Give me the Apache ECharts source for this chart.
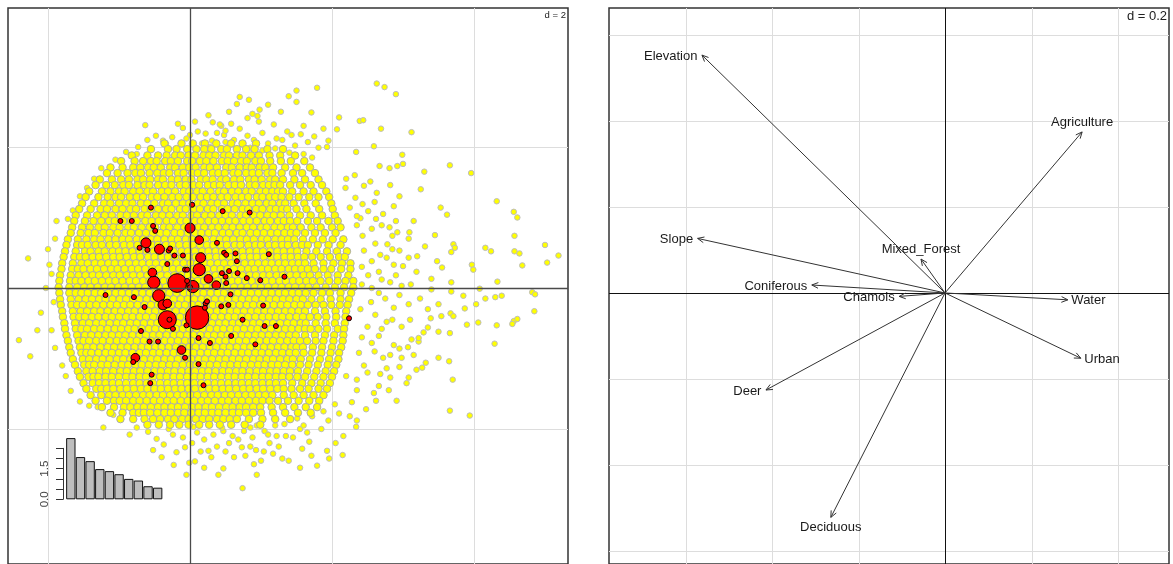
<!DOCTYPE html>
<html><head><meta charset="utf-8">
<script src="https://cdn.jsdelivr.net/npm/echarts/dist/echarts.min.js"></script>
<style>html,body{margin:0;padding:0;background:#fff}#c{width:1173px;height:564px}</style>
</head><body><div id="c"></div>
<script>
// ---- Left panel: site scores (dense cloud rows: [y, x1, x2, ...]) ----
const cloudRows = [
[2.05,-0.36,-0.12,0.04,0.21,0.37,0.58,0.74,0.93],
[1.97,-0.55,-0.31,-0.19,-0.04,0.09,0.2,0.3,0.44,0.52,0.66,0.79,0.91,1.09,1.31],
[1.88,-0.82,-0.6,-0.45,-0.33,-0.21,-0.13,-0.02,0.07,0.19,0.27,0.36,0.48,0.55,0.66,0.74,0.86,0.97,1.12,1.27,1.48],
[1.80,-0.97,-0.78,-0.66,-0.55,-0.47,-0.35,-0.27,-0.17,-0.04,0.03,0.14,0.23,0.33,0.45,0.53,0.62,0.72,0.8,0.92,1.0,1.13,1.28,1.42,1.61],
[1.71,-1.12,-0.95,-0.8,-0.7,-0.59,-0.51,-0.41,-0.28,-0.21,-0.1,-0.01,0.08,0.2,0.28,0.38,0.51,0.59,0.7,0.8,0.87,0.98,1.06,1.17,1.34,1.5,1.69],
[1.63,-1.17,-1.02,-0.88,-0.77,-0.69,-0.57,-0.46,-0.37,-0.29,-0.17,-0.09,0.03,0.11,0.2,0.32,0.4,0.49,0.61,0.68,0.79,0.88,0.97,1.09,1.16,1.29,1.45,1.58,1.76],
[1.54,-1.27,-1.1,-0.97,-0.86,-0.74,-0.66,-0.56,-0.45,-0.38,-0.26,-0.17,-0.06,0.02,0.15,0.23,0.32,0.44,0.51,0.62,0.71,0.83,0.91,1.01,1.13,1.2,1.31,1.47,1.62,1.81],
[1.46,-1.33,-1.18,-1.06,-0.94,-0.86,-0.74,-0.64,-0.57,-0.45,-0.35,-0.26,-0.14,-0.06,0.05,0.13,0.25,0.34,0.42,0.54,0.63,0.72,0.84,0.92,1.03,1.11,1.19,1.27,1.41,1.55,1.7,1.86],
[1.37,-1.42,-1.24,-1.12,-1.0,-0.92,-0.8,-0.71,-0.6,-0.52,-0.4,-0.31,-0.21,-0.09,-0.01,0.1,0.18,0.29,0.41,0.48,0.59,0.68,0.79,0.87,0.99,1.07,1.16,1.24,1.31,1.44,1.6,1.74,1.92],
[1.29,-1.47,-1.29,-1.16,-1.05,-0.97,-0.85,-0.75,-0.66,-0.54,-0.46,-0.36,-0.25,-0.16,-0.05,0.04,0.15,0.24,0.33,0.44,0.53,0.64,0.73,0.82,0.94,1.02,1.12,1.2,1.29,1.4,1.53,1.68,1.81,1.96],
[1.20,-1.52,-1.35,-1.21,-1.12,-1.0,-0.9,-0.81,-0.69,-0.6,-0.5,-0.38,-0.31,-0.2,-0.1,-0.01,0.11,0.19,0.3,0.39,0.48,0.6,0.67,0.78,0.88,0.97,1.08,1.16,1.27,1.34,1.46,1.61,1.77,1.99],
[1.12,-1.56,-1.4,-1.26,-1.17,-1.05,-0.95,-0.84,-0.76,-0.64,-0.55,-0.45,-0.34,-0.26,-0.14,-0.06,0.05,0.14,0.25,0.33,0.45,0.53,0.63,0.74,0.82,0.93,1.02,1.13,1.21,1.3,1.37,1.5,1.64,1.82,2.01],
[1.03,-1.61,-1.45,-1.31,-1.2,-1.1,-0.98,-0.89,-0.79,-0.68,-0.6,-0.48,-0.39,-0.29,-0.18,-0.1,0.02,0.1,0.21,0.3,0.41,0.5,0.59,0.71,0.79,0.9,0.99,1.09,1.18,1.28,1.4,1.55,1.7,1.86,2.04],
[0.95,-1.63,-1.48,-1.36,-1.25,-1.14,-1.06,-0.94,-0.83,-0.75,-0.63,-0.54,-0.44,-0.33,-0.24,-0.13,-0.05,0.07,0.15,0.26,0.35,0.45,0.55,0.64,0.75,0.84,0.94,1.05,1.13,1.24,1.32,1.41,1.51,1.66,1.79,1.95,2.08],
[0.86,-1.66,-1.52,-1.41,-1.29,-1.2,-1.08,-0.99,-0.87,-0.79,-0.68,-0.57,-0.49,-0.37,-0.29,-0.18,-0.08,0.01,0.12,0.2,0.31,0.4,0.51,0.6,0.7,0.8,0.89,1.0,1.08,1.19,1.28,1.38,1.45,1.56,1.71,1.84,2.0,2.12],
[0.78,-1.68,-1.54,-1.43,-1.34,-1.22,-1.13,-1.02,-0.91,-0.83,-0.72,-0.62,-0.52,-0.42,-0.33,-0.22,-0.13,-0.03,0.07,0.16,0.26,0.35,0.46,0.55,0.66,0.74,0.85,0.94,1.04,1.14,1.23,1.33,1.42,1.5,1.62,1.76,1.9,2.05],
[0.69,-1.72,-1.58,-1.46,-1.35,-1.26,-1.15,-1.05,-0.95,-0.86,-0.75,-0.66,-0.55,-0.46,-0.36,-0.26,-0.17,-0.06,0.03,0.13,0.22,0.33,0.42,0.51,0.61,0.71,0.8,0.9,1.01,1.09,1.2,1.29,1.38,1.47,1.59,1.73,1.87,2.01,2.16],
[0.61,-1.74,-1.59,-1.52,-1.44,-1.33,-1.24,-1.13,-1.04,-0.93,-0.84,-0.74,-0.64,-0.54,-0.45,-0.34,-0.25,-0.15,-0.05,0.04,0.14,0.24,0.33,0.43,0.52,0.63,0.71,0.82,0.92,1.0,1.11,1.2,1.3,1.38,1.49,1.58,1.66,1.8,1.95,2.12],
[0.52,-1.76,-1.61,-1.48,-1.4,-1.29,-1.2,-1.09,-1.0,-0.91,-0.81,-0.71,-0.61,-0.51,-0.42,-0.31,-0.23,-0.12,-0.03,0.07,0.17,0.26,0.36,0.45,0.55,0.65,0.74,0.84,0.94,1.03,1.13,1.23,1.32,1.42,1.51,1.64,1.78,1.93,2.07,2.21],
[0.44,-1.78,-1.63,-1.55,-1.47,-1.37,-1.28,-1.18,-1.08,-0.99,-0.89,-0.79,-0.7,-0.59,-0.5,-0.4,-0.31,-0.21,-0.11,-0.02,0.08,0.17,0.27,0.37,0.46,0.56,0.65,0.75,0.85,0.94,1.04,1.14,1.23,1.33,1.42,1.52,1.61,1.72,1.84,1.97,2.1,2.18],
[0.35,-1.8,-1.65,-1.53,-1.44,-1.34,-1.25,-1.15,-1.06,-0.96,-0.86,-0.76,-0.67,-0.57,-0.48,-0.38,-0.28,-0.19,-0.09,0.01,0.1,0.2,0.29,0.39,0.48,0.58,0.67,0.77,0.87,0.96,1.06,1.15,1.25,1.34,1.44,1.53,1.62,1.74,1.88,2.02,2.14,2.26],
[0.27,-1.81,-1.66,-1.58,-1.5,-1.4,-1.31,-1.21,-1.11,-1.02,-0.92,-0.82,-0.73,-0.63,-0.53,-0.44,-0.34,-0.24,-0.15,-0.05,0.05,0.14,0.24,0.34,0.43,0.53,0.62,0.72,0.82,0.91,1.01,1.1,1.2,1.29,1.39,1.48,1.57,1.66,1.76,1.88,1.99,2.13,2.26],
[0.18,-1.83,-1.68,-1.57,-1.47,-1.37,-1.28,-1.18,-1.08,-0.99,-0.89,-0.8,-0.7,-0.6,-0.51,-0.41,-0.32,-0.22,-0.12,-0.03,0.07,0.16,0.26,0.36,0.45,0.55,0.64,0.74,0.84,0.93,1.03,1.12,1.22,1.31,1.41,1.5,1.6,1.69,1.81,1.94,2.08,2.23],
[0.10,-1.84,-1.69,-1.61,-1.53,-1.43,-1.34,-1.24,-1.14,-1.05,-0.95,-0.85,-0.76,-0.66,-0.57,-0.47,-0.37,-0.28,-0.18,-0.09,0.01,0.11,0.2,0.3,0.39,0.49,0.59,0.68,0.78,0.87,0.97,1.07,1.16,1.26,1.35,1.45,1.54,1.64,1.73,1.84,1.96,2.08,2.19,2.3],
[0.01,-1.85,-1.7,-1.59,-1.49,-1.4,-1.3,-1.2,-1.11,-1.01,-0.92,-0.82,-0.72,-0.63,-0.53,-0.44,-0.34,-0.24,-0.15,-0.05,0.04,0.14,0.24,0.33,0.43,0.52,0.62,0.72,0.81,0.91,1.0,1.1,1.2,1.29,1.39,1.48,1.58,1.67,1.78,1.91,2.04,2.17,2.3],
[-0.07,-1.84,-1.7,-1.61,-1.53,-1.44,-1.34,-1.25,-1.15,-1.05,-0.96,-0.86,-0.77,-0.67,-0.57,-0.48,-0.38,-0.29,-0.19,-0.09,0,0.1,0.19,0.29,0.39,0.48,0.58,0.67,0.77,0.86,0.96,1.06,1.15,1.25,1.34,1.44,1.53,1.63,1.74,1.86,1.97,2.12,2.27],
[-0.16,-1.83,-1.68,-1.57,-1.47,-1.38,-1.28,-1.19,-1.09,-0.99,-0.9,-0.8,-0.71,-0.61,-0.51,-0.42,-0.32,-0.23,-0.13,-0.03,0.06,0.16,0.25,0.35,0.45,0.54,0.64,0.73,0.83,0.92,1.02,1.12,1.21,1.31,1.4,1.5,1.59,1.71,1.84,1.98,2.12,2.24],
[-0.24,-1.82,-1.67,-1.59,-1.51,-1.41,-1.32,-1.22,-1.12,-1.03,-0.93,-0.84,-0.74,-0.64,-0.55,-0.45,-0.36,-0.26,-0.16,-0.07,0.03,0.12,0.22,0.32,0.41,0.51,0.6,0.7,0.8,0.89,0.99,1.08,1.18,1.28,1.37,1.47,1.56,1.66,1.77,1.88,1.99,2.11,2.22],
[-0.33,-1.8,-1.65,-1.54,-1.45,-1.35,-1.26,-1.16,-1.06,-0.97,-0.87,-0.78,-0.68,-0.58,-0.49,-0.39,-0.3,-0.2,-0.1,-0.01,0.09,0.18,0.28,0.38,0.47,0.57,0.66,0.76,0.86,0.95,1.05,1.14,1.24,1.34,1.43,1.53,1.62,1.76,1.9,2.05,2.2],
[-0.41,-1.79,-1.64,-1.56,-1.48,-1.38,-1.29,-1.19,-1.1,-1.0,-0.9,-0.81,-0.71,-0.62,-0.52,-0.42,-0.33,-0.23,-0.14,-0.04,0.06,0.15,0.25,0.34,0.44,0.54,0.63,0.73,0.82,0.92,1.02,1.11,1.21,1.3,1.4,1.5,1.59,1.69,1.8,1.92,2.06,2.19],
[-0.50,-1.77,-1.62,-1.51,-1.42,-1.32,-1.23,-1.13,-1.03,-0.94,-0.84,-0.75,-0.65,-0.55,-0.46,-0.36,-0.27,-0.17,-0.07,0.02,0.12,0.21,0.31,0.41,0.5,0.6,0.69,0.79,0.89,0.98,1.08,1.17,1.27,1.37,1.46,1.56,1.63,1.77,1.91,2.04,2.18],
[-0.58,-1.76,-1.61,-1.53,-1.45,-1.35,-1.26,-1.16,-1.06,-0.97,-0.87,-0.78,-0.68,-0.58,-0.49,-0.39,-0.3,-0.2,-0.1,-0.01,0.09,0.18,0.28,0.38,0.47,0.57,0.66,0.76,0.86,0.95,1.05,1.14,1.24,1.34,1.43,1.53,1.62,1.7,1.81,1.93,2.08,2.17],
[-0.67,-1.74,-1.59,-1.48,-1.39,-1.29,-1.19,-1.1,-1.0,-0.91,-0.81,-0.71,-0.62,-0.52,-0.43,-0.33,-0.23,-0.14,-0.04,0.05,0.15,0.25,0.34,0.44,0.53,0.63,0.73,0.82,0.92,1.01,1.11,1.21,1.3,1.4,1.49,1.62,1.76,1.9,2.03,2.16],
[-0.75,-1.72,-1.57,-1.5,-1.42,-1.32,-1.23,-1.13,-1.03,-0.94,-0.84,-0.75,-0.65,-0.55,-0.46,-0.36,-0.27,-0.17,-0.07,0.02,0.12,0.21,0.31,0.41,0.5,0.6,0.69,0.79,0.89,0.98,1.08,1.17,1.27,1.37,1.46,1.55,1.65,1.77,1.88,2.02,2.15],
[-0.84,-1.7,-1.55,-1.45,-1.36,-1.26,-1.16,-1.07,-0.97,-0.88,-0.78,-0.68,-0.59,-0.49,-0.4,-0.3,-0.2,-0.11,-0.01,0.08,0.18,0.28,0.37,0.47,0.56,0.66,0.76,0.85,0.95,1.04,1.14,1.24,1.33,1.43,1.5,1.59,1.73,1.86,2.0,2.13],
[-0.92,-1.68,-1.53,-1.46,-1.39,-1.29,-1.19,-1.1,-1.0,-0.91,-0.81,-0.71,-0.62,-0.52,-0.43,-0.33,-0.23,-0.14,-0.04,0.05,0.15,0.25,0.34,0.44,0.53,0.63,0.73,0.82,0.92,1.01,1.11,1.21,1.3,1.4,1.49,1.6,1.72,1.85,1.98,2.1],
[-1.01,-1.65,-1.51,-1.42,-1.32,-1.23,-1.13,-1.03,-0.94,-0.84,-0.75,-0.65,-0.55,-0.46,-0.36,-0.27,-0.17,-0.07,0.02,0.12,0.21,0.31,0.41,0.5,0.6,0.69,0.79,0.89,0.98,1.08,1.17,1.27,1.37,1.45,1.56,1.69,1.83,1.96,2.09],
[-1.09,-1.62,-1.49,-1.42,-1.35,-1.25,-1.16,-1.06,-0.96,-0.87,-0.77,-0.68,-0.58,-0.48,-0.39,-0.29,-0.2,-0.1,0,0.09,0.19,0.28,0.38,0.48,0.57,0.67,0.76,0.86,0.96,1.05,1.15,1.24,1.34,1.44,1.55,1.67,1.8,1.94,2.06],
[-1.18,-1.58,-1.46,-1.37,-1.27,-1.18,-1.08,-0.98,-0.89,-0.79,-0.7,-0.6,-0.5,-0.41,-0.31,-0.22,-0.12,-0.02,0.07,0.17,0.26,0.36,0.46,0.55,0.65,0.74,0.84,0.94,1.03,1.13,1.22,1.32,1.41,1.52,1.65,1.78,1.91,2.03],
[-1.26,-1.55,-1.43,-1.36,-1.29,-1.19,-1.1,-1.0,-0.9,-0.81,-0.71,-0.62,-0.52,-0.42,-0.33,-0.23,-0.14,-0.04,0.06,0.15,0.25,0.34,0.44,0.54,0.63,0.73,0.82,0.92,1.02,1.11,1.21,1.3,1.4,1.51,1.62,1.75,1.88,2.0],
[-1.35,-1.5,-1.37,-1.28,-1.19,-1.09,-1.0,-0.9,-0.8,-0.71,-0.61,-0.52,-0.42,-0.32,-0.23,-0.13,-0.04,0.06,0.16,0.25,0.35,0.44,0.54,0.64,0.73,0.83,0.92,1.02,1.12,1.21,1.31,1.44,1.58,1.71,1.84,1.97],
[-1.43,-1.46,-1.32,-1.25,-1.17,-1.08,-0.98,-0.89,-0.79,-0.69,-0.6,-0.5,-0.41,-0.31,-0.21,-0.12,-0.02,0.07,0.17,0.27,0.36,0.46,0.55,0.65,0.75,0.84,0.94,1.03,1.13,1.23,1.32,1.43,1.55,1.67,1.81,1.93],
[-1.52,-1.4,-1.25,-1.14,-1.05,-0.95,-0.86,-0.76,-0.66,-0.57,-0.47,-0.38,-0.28,-0.18,-0.09,0.01,0.1,0.2,0.3,0.39,0.49,0.58,0.68,0.78,0.87,0.97,1.06,1.16,1.32,1.46,1.6,1.74,1.88],
[-1.60,-1.33,-1.17,-1.07,-0.99,-0.9,-0.8,-0.71,-0.61,-0.51,-0.42,-0.32,-0.23,-0.13,-0.03,0.06,0.16,0.25,0.35,0.45,0.54,0.64,0.73,0.83,0.93,1.02,1.12,1.24,1.38,1.53,1.68,1.82],
[-1.69,-1.24,-1.07,-0.93,-0.84,-0.74,-0.65,-0.55,-0.45,-0.36,-0.26,-0.17,-0.07,0.03,0.12,0.22,0.31,0.41,0.51,0.6,0.7,0.79,0.89,0.99,1.15,1.31,1.47,1.63,1.79],
[-1.77,-1.12,-0.95,-0.8,-0.72,-0.65,-0.56,-0.46,-0.36,-0.27,-0.17,-0.08,0.02,0.12,0.21,0.31,0.4,0.5,0.6,0.69,0.79,0.89,1.0,1.17,1.34,1.52,1.7],
[-1.86,-0.98,-0.8,-0.64,-0.52,-0.42,-0.31,-0.22,-0.11,-0.02,0.08,0.18,0.27,0.38,0.47,0.56,0.66,0.83,1.02,1.2,1.41],
[-1.94,-0.6,-0.44,-0.28,-0.15,-0.02,0.13,0.27,0.42,0.58,0.77,0.99]
];
// scattered sites outside the dense cloud: [x, y]
const cloudOutliers = [
[2.63,2.90],[2.74,2.85],[2.90,2.75],[1.79,2.84],[1.50,2.80],[1.39,2.72],[1.50,2.64],[0.70,2.71],[0.83,2.67],[0.66,2.61],[0.98,2.53],[0.88,2.47],[1.71,2.49],[0.81,2.41],[0.97,2.36],[2.10,2.42],[2.39,2.37],[2.44,2.38],[2.69,2.26],[2.07,2.25],[3.12,2.21],[-0.63,2.31],[-0.17,2.33],[0.32,2.35],[0.44,2.30],[0.58,2.33],[0.81,2.16],[1.37,2.22],[1.43,2.17],[1.56,2.18],[1.22,2.12],[1.66,2.07],[1.81,1.99],[1.95,2.09],[1.93,2.00],[2.59,2.01],[2.34,1.93],[2.99,1.89],[-0.73,2.00],[-0.38,2.09],[-0.34,2.05],[0.00,2.17],[0.11,2.22],[0.17,2.05],[0.31,2.09],[0.48,2.17],[0.50,2.23],[0.42,2.32],[0.50,2.07],
[-0.6,2.1],[-0.48,2.16],[-0.25,2.14],[-0.1,2.27],[0.07,2.36],[0.22,2.19],[0.26,2.45],[0.38,2.2],[0.62,2.1],[0.7,2.26],[0.9,2.1],[1.02,2.2],[1.1,2.05],[1.18,2.32],[1.3,2.1],[1.48,2.02],[1.6,2.3],[1.75,2.15],[1.88,2.26],[0.55,2.5],[0.95,2.44],[1.1,2.6],[1.28,2.5],[-0.05,2.12],[0.28,2.0],[0.85,1.99],[1.02,1.95],[1.2,1.98],[1.4,1.92],[1.6,1.9],[1.72,1.85],[-0.75,1.9],[-0.9,1.93],[-1.05,1.82],[-1.25,1.7],[-1.35,1.55],[-1.45,1.42],[-1.55,1.3],[-1.65,1.1],[-1.72,0.98],
[2.67,1.73],[2.81,1.70],[2.92,1.73],[3.00,1.76],[3.30,1.65],[3.66,1.74],[3.96,1.63],[2.54,1.51],[2.82,1.46],[2.63,1.35],[2.19,1.42],[2.33,1.28],[4.32,1.23],[2.87,1.16],[3.53,1.14],[3.62,1.04],[4.56,1.08],[4.61,1.00],[2.70,0.89],[2.81,0.86],[4.57,0.74],[4.16,0.57],[4.24,0.52],[3.71,0.62],[3.73,0.57],[3.68,0.51],[4.57,0.52],[4.64,0.49],[5.00,0.61],[5.19,0.46],[5.03,0.36],[4.68,0.32],[3.97,0.33],[3.99,0.26],[3.48,0.38],[3.55,0.29],[3.31,0.59],[3.08,0.70],[3.09,0.79],[2.92,0.79],[2.85,0.74],[2.95,0.53],[3.08,0.43],[2.87,0.33],[3.00,0.31],[3.19,0.23],[3.40,0.13],[3.68,0.08],[3.68,-0.05],[4.33,0.09],[4.08,-0.01],[3.85,-0.11],[4.16,-0.15],[4.30,-0.13],[4.39,-0.11],[4.82,-0.06],[4.86,-0.09],[4.03,-0.23],[3.87,-0.29],[3.67,-0.36],[3.71,-0.40],[3.39,-0.43],[3.54,-0.40],[4.06,-0.49],[4.32,-0.53],[4.56,-0.47],[4.61,-0.44],[4.85,-0.33],[4.54,-0.51],[3.90,-0.52],[3.66,-0.64],[3.50,-0.62],[3.35,-0.56],[3.29,-0.63],[4.29,-0.79],[3.12,-0.73],[3.22,-0.76],[2.87,-0.81],[2.95,-0.86],[3.07,-0.84],[3.22,-0.71],[2.98,-0.99],[3.50,-0.99],[3.32,-1.06],[3.65,-1.04],[3.19,-1.16],[3.27,-1.13],[3.08,-1.27],[3.05,-1.35],[3.70,-1.30],[2.82,-1.27],[2.91,-1.60],[3.66,-1.74],[3.94,-1.81],[2.66,-1.39],[2.59,-1.49],[2.77,-1.14],[2.72,-0.99],[2.66,-0.68],[2.56,-0.78],[2.77,-0.48],[2.61,-0.38],[2.87,-0.28],[3.08,-0.23],[3.24,-0.15],[3.50,-0.23],[3.40,-0.02],[3.11,0.05],[2.98,0.03],[2.82,0.08],[2.66,-0.07],[2.56,0.00],[2.51,0.18],[2.66,0.23],[2.77,0.43],[2.56,0.38],[2.45,0.53],[2.61,0.63],[2.43,0.74],[2.56,0.84],[2.40,0.99],[2.51,1.09],[2.43,1.19],[2.25,1.14],[2.35,0.89],[2.2,-1.25],[2.35,-1.45],[2.28,-1.62],[2.45,-1.1],[2.1,-1.78],
[2.32,1.6],[2.45,1.45],[2.2,1.55],[2.6,1.22],[2.72,1.05],[2.35,1.02],[2.62,0.98],[2.78,0.62],[2.9,0.95],[2.68,0.47],[2.85,0.55],[2.42,0.3],[2.7,0.12],[2.9,0.18],[2.42,0.05],[2.55,-0.2],[2.75,-0.15],[2.95,-0.1],[2.4,-0.3],[2.5,-0.55],[2.7,-0.58],[2.85,-0.45],[2.98,-0.55],[2.42,-0.7],[2.6,-0.9],[2.82,-0.95],[2.38,-0.92],[2.5,-1.2],[2.68,-1.22],[2.95,-1.12],[2.35,-1.3],[2.62,-1.6],[2.48,-1.72],[2.8,-1.45],[3.1,-0.45],[3.2,0.45],[3.15,0.95],[2.95,1.3],[3.25,1.4],[3.45,0.75],[3.35,-0.3],[3.15,-0.95],
[-2.28,0.42],[-1.98,0.33],[-2.03,0.00],[-2.41,-0.74],[-2.25,-0.97],[-1.95,-0.6],[-1.9,0.7],[-1.68,-1.46],[-1.55,-1.61],[-1.42,-1.67],[-1.30,-1.69],[-1.22,-1.98],[-1.08,-1.80],
[-1.95,0.2],[-1.92,-0.2],[-2.1,-0.35],[-1.9,-0.85],[-2.0,0.55],[-1.88,0.95],[-1.8,-1.1],[-1.75,-1.25],[-2.15,-0.6],
[-0.59,-2.04],[-0.47,-2.14],[-0.37,-2.22],[-0.24,-2.08],[-0.23,-2.51],[-0.19,-2.33],[-0.07,-2.26],[0.03,-2.20],[-0.01,-2.48],[0.07,-2.46],[0.26,-2.31],[0.47,-2.56],[0.74,-2.84],[0.73,-2.26],[0.78,-2.38],[0.94,-2.65],[0.93,-2.30],[1.04,-2.32],[1.17,-2.35],[1.30,-2.42],[1.39,-2.45],[1.58,-2.28],[1.71,-2.38],[1.79,-2.52],[1.93,-2.31],[1.96,-2.42],[2.15,-2.37],[2.16,-2.10],[2.25,-1.82],[2.35,-1.88],[2.34,-1.97],[2.04,-1.65],[1.88,-1.75],[1.72,-1.82],[1.51,-1.85],[1.33,-1.93],[1.22,-2.10],[1.05,-2.03],[0.94,-1.95],[0.76,-2.03],[0.60,-2.10],[0.47,-2.03],[0.33,-2.08],[0.20,-2.15],[0.1,-2.05],[0.55,-2.2],[0.88,-2.12],[1.12,-2.2],[1.45,-2.12],[1.65,-2.05],[1.85,-2.0],[-0.3,-2.0],[0.38,-2.25],[1.0,-2.45],[0.62,-2.4],
[-0.75,-1.98],[-0.85,-2.08],[-0.52,-2.3],[-0.4,-2.4],[-0.1,-2.12],[0.15,-2.32],[0.3,-2.4],[0.5,-2.32],[0.68,-2.15],[0.85,-2.25],[1.1,-2.08],[1.25,-2.25],[1.55,-2.0],[1.68,-2.18],[1.35,-2.1],[0.2,-2.55],[0.9,-2.5],[1.55,-2.55],[-0.05,-2.65],[0.4,-2.65],[1.2,-1.95],[1.6,-1.95],[1.95,-1.88],[2.05,-2.2],[0.05,-1.97],[0.45,-1.98],[0.85,-1.98]
];
// red sites: [x, y, weight]
const redSites = [
[0.00,0.85,4],[0.13,0.68,3],[-0.62,0.64,4],[-0.43,0.55,4],[0.15,0.43,4],[0.13,0.26,6],[-0.53,0.22,3],[-0.51,0.08,6],[-0.18,0.07,14],[0.04,0.02,6],[0.26,0.13,3],[0.37,0.04,3],[-0.44,-0.11,6],[-0.38,-0.24,4],[-0.32,-0.22,3],[-0.32,-0.45,13],[0.10,-0.42,22],[-0.12,-0.88,3],[-0.77,-0.99,3],
[-0.55,1.14,1],[0.46,1.09,1],[0.84,1.07,1],[-0.98,0.95,1],[-0.82,0.95,1],[-0.52,0.88,1],[-0.49,0.81,1],[0.03,1.18,1],[0.38,0.64,1],[-0.71,0.57,1],[-0.60,0.54,1],[-0.30,0.53,1],[-0.28,0.56,1],[0.48,0.50,1],[0.51,0.47,1],[0.64,0.49,1],[1.11,0.48,1],[-0.32,0.34,1],[-0.22,0.46,1],[-0.10,0.46,1],[0.66,0.38,1],[-0.07,0.26,1],[-0.04,0.26,1],[0.45,0.21,1],[0.55,0.24,1],[0.50,0.16,1],[0.67,0.21,1],[0.80,0.14,1],[0.99,0.11,1],[0.51,0.07,1],[1.33,0.16,1],[-1.19,-0.10,1],[-0.79,-0.13,1],[0.57,-0.09,1],[-0.64,-0.27,1],[0.22,-0.22,1],[0.24,-0.19,1],[0.44,-0.26,1],[0.54,-0.24,1],[1.03,-0.25,1],[0.21,-0.28,1],[2.24,-0.43,1],[-0.29,-0.45,1],[-0.24,-0.58,1],[-0.05,-0.53,1],[-0.69,-0.61,1],[1.05,-0.54,1],[1.21,-0.54,1],[0.74,-0.45,1],[0.12,-0.71,1],[0.58,-0.68,1],[-0.57,-0.76,1],[-0.45,-0.76,1],[0.28,-0.78,1],[0.92,-0.80,1],[-0.07,-0.99,1],[0.12,-1.08,1],[-0.80,-1.05,1],[-0.54,-1.23,1],[-0.56,-1.35,1],[0.19,-1.38,1],[0.00,0.01,1],[-0.04,0.10,1]
];
const leftGridX = [-2, 2, 4];
const leftGridY = [-2, 2];
const leftScaleLabel = 'd = 2';

// eigenvalue inset
const eigenRanks = ['1','2','3','4','5','6','7','8','9','10'];
const eigenValues = [3.0, 2.07, 1.87, 1.48, 1.38, 1.23, 1.0, 0.92, 0.64, 0.57];
const eigenTickValues = [0, 1.5];
const eigenTickLabels = ['0.0', '1.5'];

// ---- Right panel: variable correlations ----
const varNames = ['Elevation','Agriculture','Slope','Mixed_Forest','Coniferous','Chamois','Water','Urban','Deer','Deciduous'];
const varX = [-0.562, 0.317, -0.572, -0.0555, -0.308, -0.106, 0.284, 0.314, -0.414, -0.264];
const varY = [0.554, 0.375, 0.127, 0.079, 0.0185, -0.008, -0.016, -0.152, -0.226, -0.5226];
const rightGridX = [-0.6, -0.4, -0.2, 0.2, 0.4];
const rightGridY = [-0.6, -0.4, -0.2, 0.2, 0.4, 0.6];
const rightScaleLabel = 'd = 0.2';

const FONT = '"Liberation Sans", Arial, sans-serif';

const corePts = [];
cloudRows.forEach(r => { for (let i = 1; i < r.length; i++) corePts.push([r[i], r[0]]); });
const redSorted = redSites.slice().sort((a, b) => b[2] - a[2]);

function gridLines(idx, vals, dir, color, width, z) {
  return {
    type: 'custom', xAxisIndex: idx, yAxisIndex: idx, silent: true, z: z, clip: false,
    data: vals.map(v => dir === 'v' ? [v, 0] : [0, v]),
    renderItem: function (params, api) {
      const cs = params.coordSys;
      if (dir === 'v') {
        const x = Math.round(api.coord([api.value(0), 0])[0]) + 0.5;
        return { type: 'line', shape: { x1: x, y1: cs.y, x2: x, y2: cs.y + cs.height }, style: { stroke: color, lineWidth: width } };
      }
      const y = Math.round(api.coord([0, api.value(1)])[1]) + 0.5;
      return { type: 'line', shape: { x1: cs.x, y1: y, x2: cs.x + cs.width, y2: y }, style: { stroke: color, lineWidth: width } };
    }
  };
}

const chart = echarts.init(document.getElementById('c'), null, { renderer: 'canvas' });
chart.setOption({
  animation: false,
  backgroundColor: '#ffffff',
  grid: [
    { left: 8, top: 8, width: 560, height: 560, show: true, borderColor: '#333', borderWidth: 1.5, backgroundColor: 'rgba(0,0,0,0)', z: 0 },
    { left: 609, top: 8, width: 560, height: 560, show: true, borderColor: '#333', borderWidth: 1.5, backgroundColor: 'rgba(0,0,0,0)', z: 0 },
    { left: 66, top: 448.3, width: 96.5, height: 51 }
  ],
  xAxis: [
    { gridIndex: 0, type: 'value', min: -2.5634, max: 5.3239, show: false },
    { gridIndex: 1, type: 'value', min: -0.7769, max: 0.5179, show: false },
    { gridIndex: 2, type: 'category', data: eigenRanks, show: false }
  ],
  yAxis: [
    { gridIndex: 0, type: 'value', min: -3.9155, max: 3.9718, show: false },
    { gridIndex: 1, type: 'value', min: -0.6312, max: 0.6636, show: false },
    { gridIndex: 2, type: 'value', min: 0, max: 2.5, interval: 0.5, offset: 3,
      axisLine: { show: true, lineStyle: { color: '#333', width: 1 } },
      axisTick: { show: true, length: 7, lineStyle: { color: '#333' } },
      splitLine: { show: false },
      axisLabel: { show: true, rotate: 90, margin: 12, fontSize: 11.5, color: '#444', fontFamily: FONT,
        formatter: v => { const k = eigenTickValues.indexOf(v); return k >= 0 ? eigenTickLabels[k] : ''; } } }
  ],
  series: [
    gridLines(0, leftGridX, 'v', '#DDDDDD', 1, 1),
    gridLines(0, leftGridY, 'h', '#DDDDDD', 1, 1),
    { type: 'scatter', xAxisIndex: 0, yAxisIndex: 0, data: cloudOutliers, symbol: 'circle', symbolSize: 5.5, silent: true, z: 2,
      itemStyle: { color: '#FFFF00', borderColor: '#BDBDBD', borderWidth: 1, opacity: 1 } },
    { type: 'scatter', xAxisIndex: 0, yAxisIndex: 0, data: corePts, symbol: 'circle', symbolSize: 7.5, silent: true, z: 2,
      itemStyle: { color: '#FFFF00', borderColor: '#ABABAB', borderWidth: 1, opacity: 1 } },
    { type: 'scatter', xAxisIndex: 0, yAxisIndex: 0, data: redSorted, symbol: 'circle', silent: true, z: 3,
      symbolSize: v => 5 * Math.sqrt(v[2]),
      itemStyle: { color: '#FF0000', borderColor: '#000', borderWidth: 1, opacity: 1 } },
    gridLines(0, [0], 'v', '#4a4a4a', 1.3, 4),
    gridLines(0, [0], 'h', '#4a4a4a', 1.3, 4),
    { type: 'bar', xAxisIndex: 2, yAxisIndex: 2, data: eigenValues, clip: false, barCategoryGap: '3%', silent: true, z: 5,
      itemStyle: { color: '#BEBEBE', borderColor: '#111', borderWidth: 1 } },
    gridLines(1, rightGridX, 'v', '#DDDDDD', 1, 1),
    gridLines(1, rightGridY, 'h', '#DDDDDD', 1, 1),
    gridLines(1, [0], 'v', '#111', 1, 2),
    gridLines(1, [0], 'h', '#111', 1, 2),
    { type: 'custom', xAxisIndex: 1, yAxisIndex: 1, silent: true, z: 4, clip: false,
      data: varNames.map((n, i) => [varX[i], varY[i]]),
      renderItem: function (params, api) {
        const x = api.value(0), y = api.value(1);
        const o = api.coord([0, 0]), p = api.coord([x, y]);
        const a = Math.atan2(p[1] - o[1], p[0] - o[0]);
        const L = 7, h = 0.42;
        const b1 = [p[0] - L * Math.cos(a - h), p[1] - L * Math.sin(a - h)];
        const b2 = [p[0] - L * Math.cos(a + h), p[1] - L * Math.sin(a + h)];
        let tx, ty, al, va;
        if (Math.abs(x) >= Math.abs(y)) {
          va = 'middle'; ty = p[1] + 1;
          if (x < 0) { al = 'right'; tx = p[0] - 4.5; } else { al = 'left'; tx = p[0] + 3.5; }
        } else {
          al = 'center'; tx = p[0];
          if (y > 0) { va = 'bottom'; ty = p[1] - 3; } else { va = 'top'; ty = p[1] + 4; }
        }
        return { type: 'group', children: [
          { type: 'line', shape: { x1: o[0], y1: o[1], x2: p[0], y2: p[1] }, style: { stroke: '#333', lineWidth: 1 } },
          { type: 'polyline', shape: { points: [b1, p, b2] }, style: { stroke: '#333', lineWidth: 1, fill: 'none' } },
          { type: 'text', style: { text: varNames[params.dataIndex], x: tx, y: ty, align: al, verticalAlign: va,
            textAlign: al, textVerticalAlign: va, font: '13px ' + FONT, fill: '#1a1a1a' } }
        ] };
      }
    }
  ],
  graphic: [
    { type: 'text', right: 607, top: 10.5, z: 10, style: { text: leftScaleLabel, font: '9.5px ' + FONT, fill: '#222' } },
    { type: 'text', right: 6, top: 10, z: 10, style: { text: rightScaleLabel, font: '13px ' + FONT, fill: '#222' } }
  ]
});
</script></body></html>
